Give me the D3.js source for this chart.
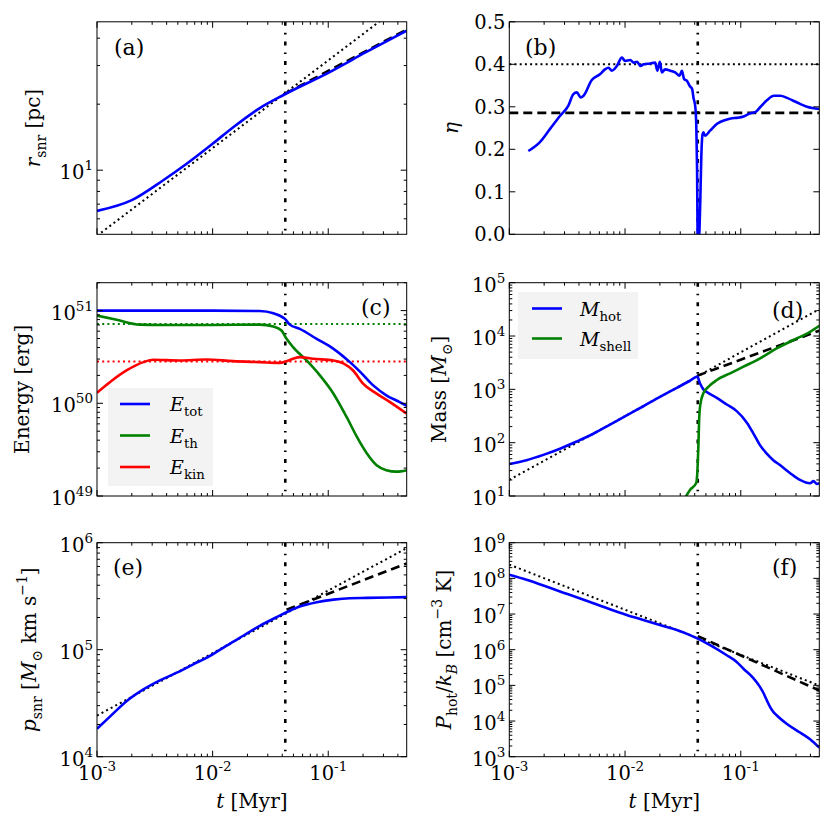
<!DOCTYPE html>
<html><head><meta charset="utf-8">
<script src="https://cdn.jsdelivr.net/npm/d3@7"></script>
<style>
body{margin:0;background:#fff}
svg{display:block}
text{font-family:"DejaVu Serif",serif;fill:#000}
</style>
</head><body>
<svg id="fig" width="830" height="829"></svg>
<script>
// ---------------- DATA ----------------
const tRange = [1e-3, 0.477];
const tSF = 0.0425;              // shell-formation time (vertical dash-dot)
const xTickExps = [-3, -2, -1];

// (a) shell radius [pc]
const rSnr = [[0.001,6.52],[0.002,7.3],[0.00374,9.0],[0.00596,10.7],[0.01,13.2],[0.01507,15.7],[0.0256,19.2],[0.0422,22.2],[0.1,27.8],[0.214,34.6],[0.477,43.3]];
const rST = [[0.001,5.02],[0.477,59.2]];
const rPDS = [[0.0422,22.3],[0.477,43.8]];

// (b) eta
const etaSeries = [[0.00146,0.196],[0.00184,0.217],[0.00225,0.248],[0.00275,0.279],[0.00324,0.303],[0.00358,0.330],[0.00383,0.334],[0.00414,0.322],[0.00438,0.326],[0.00516,0.363],[0.0061,0.377],[0.0067,0.388],[0.0072,0.392],[0.0077,0.385],[0.0085,0.396],[0.0094,0.416],[0.0100,0.408],[0.0111,0.410],[0.0119,0.404],[0.0127,0.406],[0.0136,0.396],[0.0145,0.400],[0.0165,0.402],[0.0182,0.404],[0.0190,0.385],[0.0200,0.406],[0.0208,0.381],[0.0222,0.388],[0.0246,0.385],[0.0271,0.381],[0.0296,0.373],[0.0310,0.385],[0.0324,0.365],[0.0343,0.361],[0.0362,0.349],[0.0380,0.342],[0.0390,0.322],[0.0405,0.299],[0.0413,0.252],[0.0419,0.158],[0.0425,-0.02],[0.0433,-0.02],[0.0447,0.080],[0.0456,0.182],[0.0468,0.236],[0.0477,0.240],[0.0490,0.232],[0.0543,0.244],[0.0624,0.260],[0.0737,0.269],[0.084,0.273],[0.092,0.274],[0.106,0.277],[0.121,0.285],[0.133,0.287],[0.147,0.299],[0.169,0.316],[0.193,0.326],[0.22,0.326],[0.251,0.321],[0.307,0.310],[0.373,0.300],[0.477,0.295]];
const etaST = 0.4;
const etaPDS = 0.2857;

// (c) energies [erg]
const eTot = [[0.001,1.0e51],[0.003,1.0e51],[0.01,1.0e51],[0.0256,0.99e51],[0.0335,9.36e50],[0.0422,8.13e50],[0.0465,7.06e50],[0.0567,6.35e50],[0.0794,4.96e50],[0.111,3.87e50],[0.154,2.78e50],[0.188,2.2e50],[0.245,1.56e50],[0.318,1.22e50],[0.415,1.03e50],[0.477,9.36e49]];
const eTh = [[0.001,8.83e50],[0.00148,7.95e50],[0.00235,7.06e50],[0.0035,7.0e50],[0.01,7.0e50],[0.0256,7.06e50],[0.0335,6.73e50],[0.0394,6.1e50],[0.0436,4.96e50],[0.0496,4.04e50],[0.065,2.9e50],[0.0847,2.0e50],[0.111,1.27e50],[0.144,7.13e49],[0.177,4.35e49],[0.216,2.88e49],[0.262,2.15e49],[0.318,1.9e49],[0.389,1.83e49],[0.477,1.9e49]];
const eKin = [[0.001,1.30e50],[0.0013,1.7e50],[0.0018,2.26e50],[0.00252,2.78e50],[0.00307,2.95e50],[0.00522,2.9e50],[0.00885,2.97e50],[0.015,2.85e50],[0.0256,2.78e50],[0.038,2.73e50],[0.0436,2.85e50],[0.0496,3.02e50],[0.0567,3.15e50],[0.074,3.02e50],[0.111,2.9e50],[0.135,2.7e50],[0.164,2.26e50],[0.2,1.63e50],[0.262,1.27e50],[0.342,1.03e50],[0.477,7.74e49]];
const eThST = 7.17e50;
const eKinST = 2.83e50;

// (d) masses [Msun]
const mHot = [[0.001,39.8],[0.00141,47],[0.00197,59],[0.00274,77],[0.00382,105],[0.00532,147],[0.00741,218],[0.01033,325],[0.0144,482],[0.02,720],[0.028,1065],[0.0364,1450],[0.0421,1730],[0.0444,1300],[0.0475,1000],[0.0508,890],[0.0621,690],[0.0757,520],[0.0922,390],[0.1125,240],[0.1284,150],[0.1465,90],[0.167,63],[0.191,47],[0.218,38],[0.266,27],[0.325,20],[0.397,17.3],[0.425,19],[0.4545,16.8],[0.477,17.5]];
const mShell = [[0.031,7],[0.0364,13],[0.0411,17.3],[0.0421,26.6],[0.0430,84],[0.0438,307],[0.0449,547],[0.0475,841],[0.0527,1120],[0.0621,1500],[0.0809,2000],[0.1055,2660],[0.147,3800],[0.204,5870],[0.285,8410],[0.397,1.2e4],[0.477,1.56e4]];
const mST = [[0.001,20],[0.477,3.2e4]];
const mPDS = [[0.0421,1.8e3],[0.477,1.26e4]];

// (e) momentum [Msun km/s]
const pSnr = [[0.001,1.82e4],[0.0013,2.38e4],[0.0018,3.3e4],[0.00252,4.25e4],[0.0035,5.16e4],[0.00489,6.1e4],[0.0068,7.3e4],[0.0095,8.75e4],[0.0132,1.09e5],[0.0184,1.35e5],[0.0256,1.67e5],[0.0357,2.01e5],[0.0436,2.24e5],[0.0567,2.53e5],[0.0794,2.78e5],[0.111,2.94e5],[0.154,3.03e5],[0.215,3.05e5],[0.477,3.1e5]];
const pST = [[0.001,2.42e4],[0.477,8.9e5]];
const pPDS = [[0.0436,2.36e5],[0.477,6.4e5]];

// (f) hot-gas pressure [cm^-3 K]
const pHot = [[0.001,1.27e8],[0.00141,9.16e7],[0.00197,6.34e7],[0.00274,4.3e7],[0.00382,2.97e7],[0.00532,2.01e7],[0.00741,1.36e7],[0.01033,9.42e6],[0.0144,6.79e6],[0.02,4.91e6],[0.028,3.55e6],[0.0364,2.56e6],[0.0421,2.07e6],[0.0543,1.34e6],[0.0757,6.98e5],[0.0922,4.52e5],[0.1055,2.93e5],[0.1284,1.6e5],[0.145,9.5e4],[0.1566,6.2e4],[0.168,3.8e4],[0.179,2.5e4],[0.19,1.85e4],[0.204,1.45e4],[0.249,8.4e3],[0.325,4.76e3],[0.397,3.09e3],[0.477,1.79e3]];
const pHotST = [[0.001,2.43e8],[0.477,9.9e4]];
const pHotPDS = [[0.0425,2.4e6],[0.477,7.2e4]];

// ---------------- DRAWING ----------------
const svg = d3.select('#fig');
const cols = [[97, 406.7], [509.3, 819.3]];
const rows = [[21.8, 234.3], [282.7, 496], [542.7, 756.7]];
const BLUE = '#0000ff', GREEN = '#008000', RED = '#ff0000';

function mathText(sel, parts, size) {
  let cur = 0;
  const sub = size * 0.28, sup = -size * 0.45;
  parts.forEach(([t, k]) => {
    let target = 0, fs = size, style = 'normal';
    if (k === 'i') style = 'italic';
    if (k === 'sub' || k === 'subi') { target = sub; fs = size * 0.7; }
    if (k === 'subi') style = 'italic';
    if (k === 'sup') { target = sup; fs = size * 0.7; }
    sel.append('tspan').attr('dy', target - cur).attr('font-size', fs)
      .attr('font-style', style).text(t);
    cur = target;
  });
}

function logTicks(dom) {
  const maj = [], min = [];
  const k0 = Math.floor(Math.log10(dom[0])), k1 = Math.ceil(Math.log10(dom[1]));
  for (let k = k0; k <= k1; k++) for (let m = 1; m <= 9; m++) {
    const v = m * Math.pow(10, k);
    if (v >= dom[0] * 0.9999 && v <= dom[1] * 1.0001) (m === 1 ? maj : min).push(v);
  }
  return {maj, min};
}

let clipId = 0;
function panel(cfg) {
  const [x0, x1] = cols[cfg.col], [y0, y1] = rows[cfg.row];
  const g = svg.append('g');
  const x = d3.scaleLog().domain(tRange).range([x0, x1]);
  const y = (cfg.ylin ? d3.scaleLinear() : d3.scaleLog()).domain(cfg.yDom).range([y1, y0]);
  const id = 'clip' + (clipId++);
  g.append('clipPath').attr('id', id).append('rect')
    .attr('x', x0).attr('y', y0).attr('width', x1 - x0).attr('height', y1 - y0);
  const plot = g.append('g').attr('clip-path', `url(#${id})`);
  const line = d3.line().x(d => x(d[0])).y(d => y(d[1])).curve(d3.curveMonotoneX);

  plot.append('line').attr('x1', x(tSF)).attr('x2', x(tSF)).attr('y1', y0).attr('y2', y1)
    .attr('stroke', '#000').attr('stroke-width', 2.6).attr('stroke-dasharray', '4,7,1.6,7');

  (cfg.hlines || []).forEach(h => {
    plot.append('line').attr('x1', x0).attr('x2', x1).attr('y1', y(h.v)).attr('y2', y(h.v))
      .attr('stroke', h.color).attr('stroke-width', h.w || 2).attr('stroke-dasharray', h.dash);
  });
  (cfg.series || []).forEach(s => {
    plot.append('path').datum(s.data).attr('d', line).attr('fill', 'none')
      .attr('stroke', s.color).attr('stroke-width', s.w || 2.6)
      .attr('stroke-dasharray', s.dash || null).attr('stroke-linejoin', 'round');
  });

  g.append('rect').attr('x', x0).attr('y', y0).attr('width', x1 - x0).attr('height', y1 - y0)
    .attr('fill', 'none').attr('stroke', '#000').attr('stroke-width', 1);

  const tk = g.append('g').attr('stroke', '#000').attr('stroke-width', 1);
  const xt = logTicks(tRange);
  [[xt.maj, 6], [xt.min, 3]].forEach(([vals, L]) => vals.forEach(v => {
    const px = x(v);
    tk.append('line').attr('x1', px).attr('x2', px).attr('y1', y1).attr('y2', y1 - L);
    tk.append('line').attr('x1', px).attr('x2', px).attr('y1', y0).attr('y2', y0 + L);
  }));
  let ymaj, ymin = [];
  if (cfg.ylin) ymaj = cfg.yTicks;
  else { const t = logTicks(cfg.yDom); ymaj = t.maj; ymin = t.min; }
  [[ymaj, 6], [ymin, 3]].forEach(([vals, L]) => vals.forEach(v => {
    const py = y(v);
    tk.append('line').attr('x1', x0).attr('x2', x0 + L).attr('y1', py).attr('y2', py);
    tk.append('line').attr('x1', x1).attr('x2', x1 - L).attr('y1', py).attr('y2', py);
  }));

  ymaj.forEach(v => {
    const py = y(v);
    if (cfg.ylin) {
      g.append('text').attr('x', x0 - 4).attr('y', py + 7).attr('text-anchor', 'end')
        .attr('font-size', 19.5).text(v.toFixed(1));
    } else {
      const e = Math.round(Math.log10(v));
      const t = g.append('text').attr('x', x0 - 4).attr('y', py + 9).attr('text-anchor', 'end')
        .attr('font-size', 19.5);
      t.append('tspan').text('10');
      t.append('tspan').attr('dy', -9).attr('font-size', 13.5).text(e);
    }
  });
  if (cfg.xLabels) {
    xTickExps.forEach(e => {
      const t = g.append('text').attr('x', x(Math.pow(10, e))).attr('y', 780)
        .attr('text-anchor', 'middle').attr('font-size', 19.5);
      t.append('tspan').text('10');
      t.append('tspan').attr('dy', -9).attr('font-size', 13.5).text('-' + (-e));
    });
    const xl = g.append('text').attr('x', (x0 + x1) / 2).attr('y', 808)
      .attr('text-anchor', 'middle').attr('font-size', 20);
    mathText(xl, [['t', 'i'], [' [Myr]', 'r']], 20);
  }
  const yl = g.append('text')
    .attr('transform', `translate(${cfg.ylx},${(y0 + y1) / 2}) rotate(-90)`)
    .attr('text-anchor', 'middle').attr('font-size', 20);
  mathText(yl, cfg.ylabel, 20);

  g.append('text').attr('x', cfg.tag[1]).attr('y', cfg.tag[2]).attr('font-size', 22).text(cfg.tag[0]);

  if (cfg.legend) {
    const L = cfg.legend;
    g.append('rect').attr('x', L.x).attr('y', L.y).attr('width', L.w).attr('height', L.h)
      .attr('fill', '#f3f3f3');
    L.items.forEach((it, i) => {
      const yy = L.y0 + i * L.dy;
      g.append('line').attr('x1', L.lx).attr('x2', L.lx + 30).attr('y1', yy).attr('y2', yy)
        .attr('stroke', it.color).attr('stroke-width', 2.6);
      const t = g.append('text').attr('x', L.tx).attr('y', yy + 7).attr('font-size', 19);
      mathText(t, it.label, 19);
    });
  }
}

const DOT = '2,3.2', DASH = '9,5';

panel({col: 0, row: 0, yDom: [5.1, 47.5], ylx: 40,
  ylabel: [['r', 'i'], ['snr', 'sub'], [' [pc]', 'r']], tag: ['(a)', 114, 55],
  series: [
    {data: rST, color: '#000', dash: DOT, w: 2},
    {data: rPDS, color: '#000', dash: DASH, w: 2.6},
    {data: rSnr, color: BLUE}
  ]});

panel({col: 1, row: 0, ylin: true, yDom: [0, 0.5], yTicks: [0, 0.1, 0.2, 0.3, 0.4, 0.5], ylx: 458,
  ylabel: [['\u03b7', 'i']], tag: ['(b)', 525, 55],
  hlines: [{v: etaST, color: '#000', dash: DOT}, {v: etaPDS, color: '#000', dash: DASH, w: 2.6}],
  series: [{data: etaSeries, color: BLUE}]});

panel({col: 0, row: 1, yDom: [1e49, 2e51], ylx: 29,
  ylabel: [['Energy [erg]', 'r']], tag: ['(c)', 361, 315],
  hlines: [{v: eThST, color: GREEN, dash: DOT}, {v: eKinST, color: RED, dash: DOT}],
  series: [{data: eTot, color: BLUE}, {data: eTh, color: GREEN}, {data: eKin, color: RED}],
  legend: {x: 108, y: 388, w: 105, h: 98, lx: 120, y0: 404, dy: 31.5, tx: 170,
    items: [
      {color: BLUE, label: [['E', 'i'], ['tot', 'sub']]},
      {color: GREEN, label: [['E', 'i'], ['th', 'sub']]},
      {color: RED, label: [['E', 'i'], ['kin', 'sub']]}
    ]}});

panel({col: 1, row: 1, yDom: [1e1, 1e5], ylx: 446,
  ylabel: [['Mass [', 'r'], ['M', 'i'], ['\u2299', 'sub'], [']', 'r']], tag: ['(d)', 772, 318],
  series: [
    {data: mST, color: '#000', dash: DOT, w: 2},
    {data: mPDS, color: '#000', dash: DASH, w: 2.6},
    {data: mHot, color: BLUE}, {data: mShell, color: GREEN}
  ],
  legend: {x: 518, y: 292, w: 120, h: 67, lx: 532, y0: 308.5, dy: 30, tx: 580,
    items: [
      {color: BLUE, label: [['M', 'i'], ['hot', 'sub']]},
      {color: GREEN, label: [['M', 'i'], ['shell', 'sub']]}
    ]}});

panel({col: 0, row: 2, yDom: [1e4, 1e6], ylx: 36, xLabels: true,
  ylabel: [['p', 'i'], ['snr', 'sub'], [' [', 'r'], ['M', 'i'], ['\u2299', 'sub'], [' km s', 'r'], ['\u22121', 'sup'], [']', 'r']],
  tag: ['(e)', 113, 575],
  series: [
    {data: pST, color: '#000', dash: DOT, w: 2},
    {data: pPDS, color: '#000', dash: DASH, w: 2.6},
    {data: pSnr, color: BLUE}
  ]});

panel({col: 1, row: 2, yDom: [1e3, 1e9], ylx: 451, xLabels: true,
  ylabel: [['P', 'i'], ['hot', 'sub'], ['/', 'r'], ['k', 'i'], ['B', 'subi'], [' [cm', 'r'], ['\u22123', 'sup'], [' K]', 'r']],
  tag: ['(f)', 772, 575],
  series: [
    {data: pHotST, color: '#000', dash: DOT, w: 2},
    {data: pHotPDS, color: '#000', dash: DASH, w: 2.6},
    {data: pHot, color: BLUE}
  ]});
</script>
</body></html>
